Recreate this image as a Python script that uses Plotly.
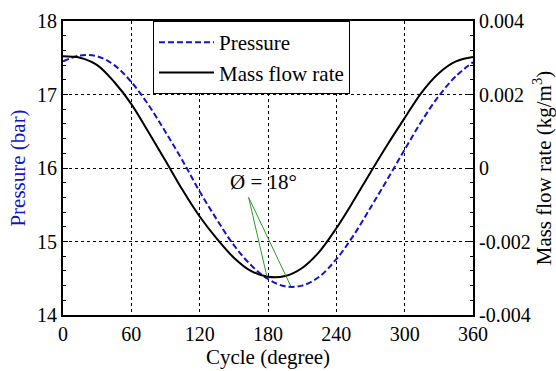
import numpy as np
import plotly.graph_objects as go

# ---- data ----
cycle_deg = [0, 15, 30, 45, 60, 75, 90, 105, 120, 135, 150, 165, 180,
             195, 210, 225, 240, 255, 270, 285, 300, 315, 330, 345, 360]

pressure_bar = [17.45, 17.53, 17.52, 17.40, 17.17, 16.86, 16.49, 16.10, 15.68,
                15.30, 14.95, 14.68, 14.49, 14.39, 14.40, 14.52, 14.76, 15.08,
                15.46, 15.85, 16.25, 16.64, 16.98, 17.25, 17.44]

mass_flow = [0.00304, 0.00300, 0.00280, 0.00234, 0.00174, 0.00098, 0.00020,
             -0.00060, -0.00132, -0.00192, -0.00244, -0.00280, -0.00296,
             -0.00294, -0.00272, -0.00228, -0.00164, -0.00090, -0.00012,
             0.00064, 0.00136, 0.00206, 0.00258, 0.00290, 0.00302]

x_ticks = [0, 60, 120, 180, 240, 300, 360]
y_ticks = [14, 15, 16, 17, 18]
y2_ticks = [-0.004, -0.002, 0, 0.002, 0.004]
y2_ticktext = ["-0.004", "-0.002", "0", "0.002", "0.004"]

phase_label = "Ø = 18°"
phase_label_at = (176, 15.81)      # (degree, bar)
phase_line_start = (163, 15.60)    # (degree, bar)
phase_black_end_deg = 179
phase_blue_end_deg = 200

# ---- figure ----
FONT = "'Liberation Serif', Tinos, 'Times New Roman', 'DejaVu Serif', serif"
BLUE = "#1414c8"

fig = go.Figure()
fig.add_trace(go.Scatter(
    x=cycle_deg, y=pressure_bar, name="Pressure", mode="lines",
    line=dict(color=BLUE, width=2, dash="6px,3px", shape="spline", smoothing=1),
    yaxis="y"))
fig.add_trace(go.Scatter(
    x=cycle_deg, y=mass_flow, name="Mass flow rate", mode="lines",
    line=dict(color="black", width=2, shape="spline", smoothing=1),
    yaxis="y2"))

# phase-shift marker lines: end points taken on the two curves
y_lo, y_hi = 14, 18
m_lo, m_hi = -0.004, 0.004
black_end_m = float(np.interp(phase_black_end_deg, cycle_deg, mass_flow))
black_end_p = y_lo + (black_end_m - m_lo) / (m_hi - m_lo) * (y_hi - y_lo)
blue_end_p = float(np.interp(phase_blue_end_deg, cycle_deg, pressure_bar))
for ex, ey in [(phase_black_end_deg, black_end_p), (phase_blue_end_deg, blue_end_p)]:
    fig.add_shape(type="line", xref="x", yref="y",
                  x0=phase_line_start[0], y0=phase_line_start[1], x1=ex, y1=ey,
                  line=dict(color="#2a9a2a", width=1))

fig.add_annotation(x=phase_label_at[0], y=phase_label_at[1], xref="x", yref="y",
                   text=phase_label, showarrow=False,
                   font=dict(family=FONT, size=21, color="black"))

axis_common = dict(showline=True, linecolor="black", linewidth=2,
                   tickfont=dict(family=FONT, size=20, color="black"),
                   zeroline=False, automargin=False)

fig.update_layout(
    template="none",
    width=556, height=371,
    margin=dict(l=63, r=83, t=21, b=56),
    paper_bgcolor="white", plot_bgcolor="white",
    font=dict(family=FONT, size=20, color="black"),
    showlegend=True,
    legend=dict(x=0.2195, y=1.0, xanchor="left", yanchor="top",
                bgcolor="white", bordercolor="black", borderwidth=1,
                font=dict(family=FONT, size=21, color="black"),
                itemwidth=55, tracegroupgap=0),
    xaxis=dict(range=[0, 360], tickvals=x_ticks, mirror=True,
               showgrid=True, gridcolor="black", griddash="3px,3px", gridwidth=1,
               ticks="", title=dict(text="Cycle (degree)",
                                    font=dict(family=FONT, size=21, color="black"),
                                    standoff=5),
               **axis_common),
    yaxis=dict(range=[y_lo, y_hi], tickvals=y_ticks, mirror=True,
               showgrid=True, gridcolor="black", griddash="3px,3px", gridwidth=1,
               ticks="inside", ticklen=5, tickcolor="black",
               minor=dict(dtick=0.2, ticks="inside", ticklen=3, tickcolor="black",
                          showgrid=False),
               title=dict(text="Pressure (bar)",
                          font=dict(family=FONT, size=21, color=BLUE),
                          standoff=6),
               **axis_common),
    yaxis2=dict(range=[m_lo, m_hi], tickvals=y2_ticks, ticktext=y2_ticktext,
                overlaying="y", side="right", showgrid=False,
                ticks="inside", ticklen=5, tickcolor="black",
                minor=dict(dtick=0.0004, ticks="inside", ticklen=3, tickcolor="black",
                           showgrid=False),
                title=dict(text="Mass flow rate (kg/m<sup>3</sup>)",
                           font=dict(family=FONT, size=21, color="black"),
                           standoff=2),
                **axis_common),
)

fig.write_html("out.html", config={"displayModeBar": False},
               post_script="document.body.style.margin='0';document.body.style.padding='0';")
